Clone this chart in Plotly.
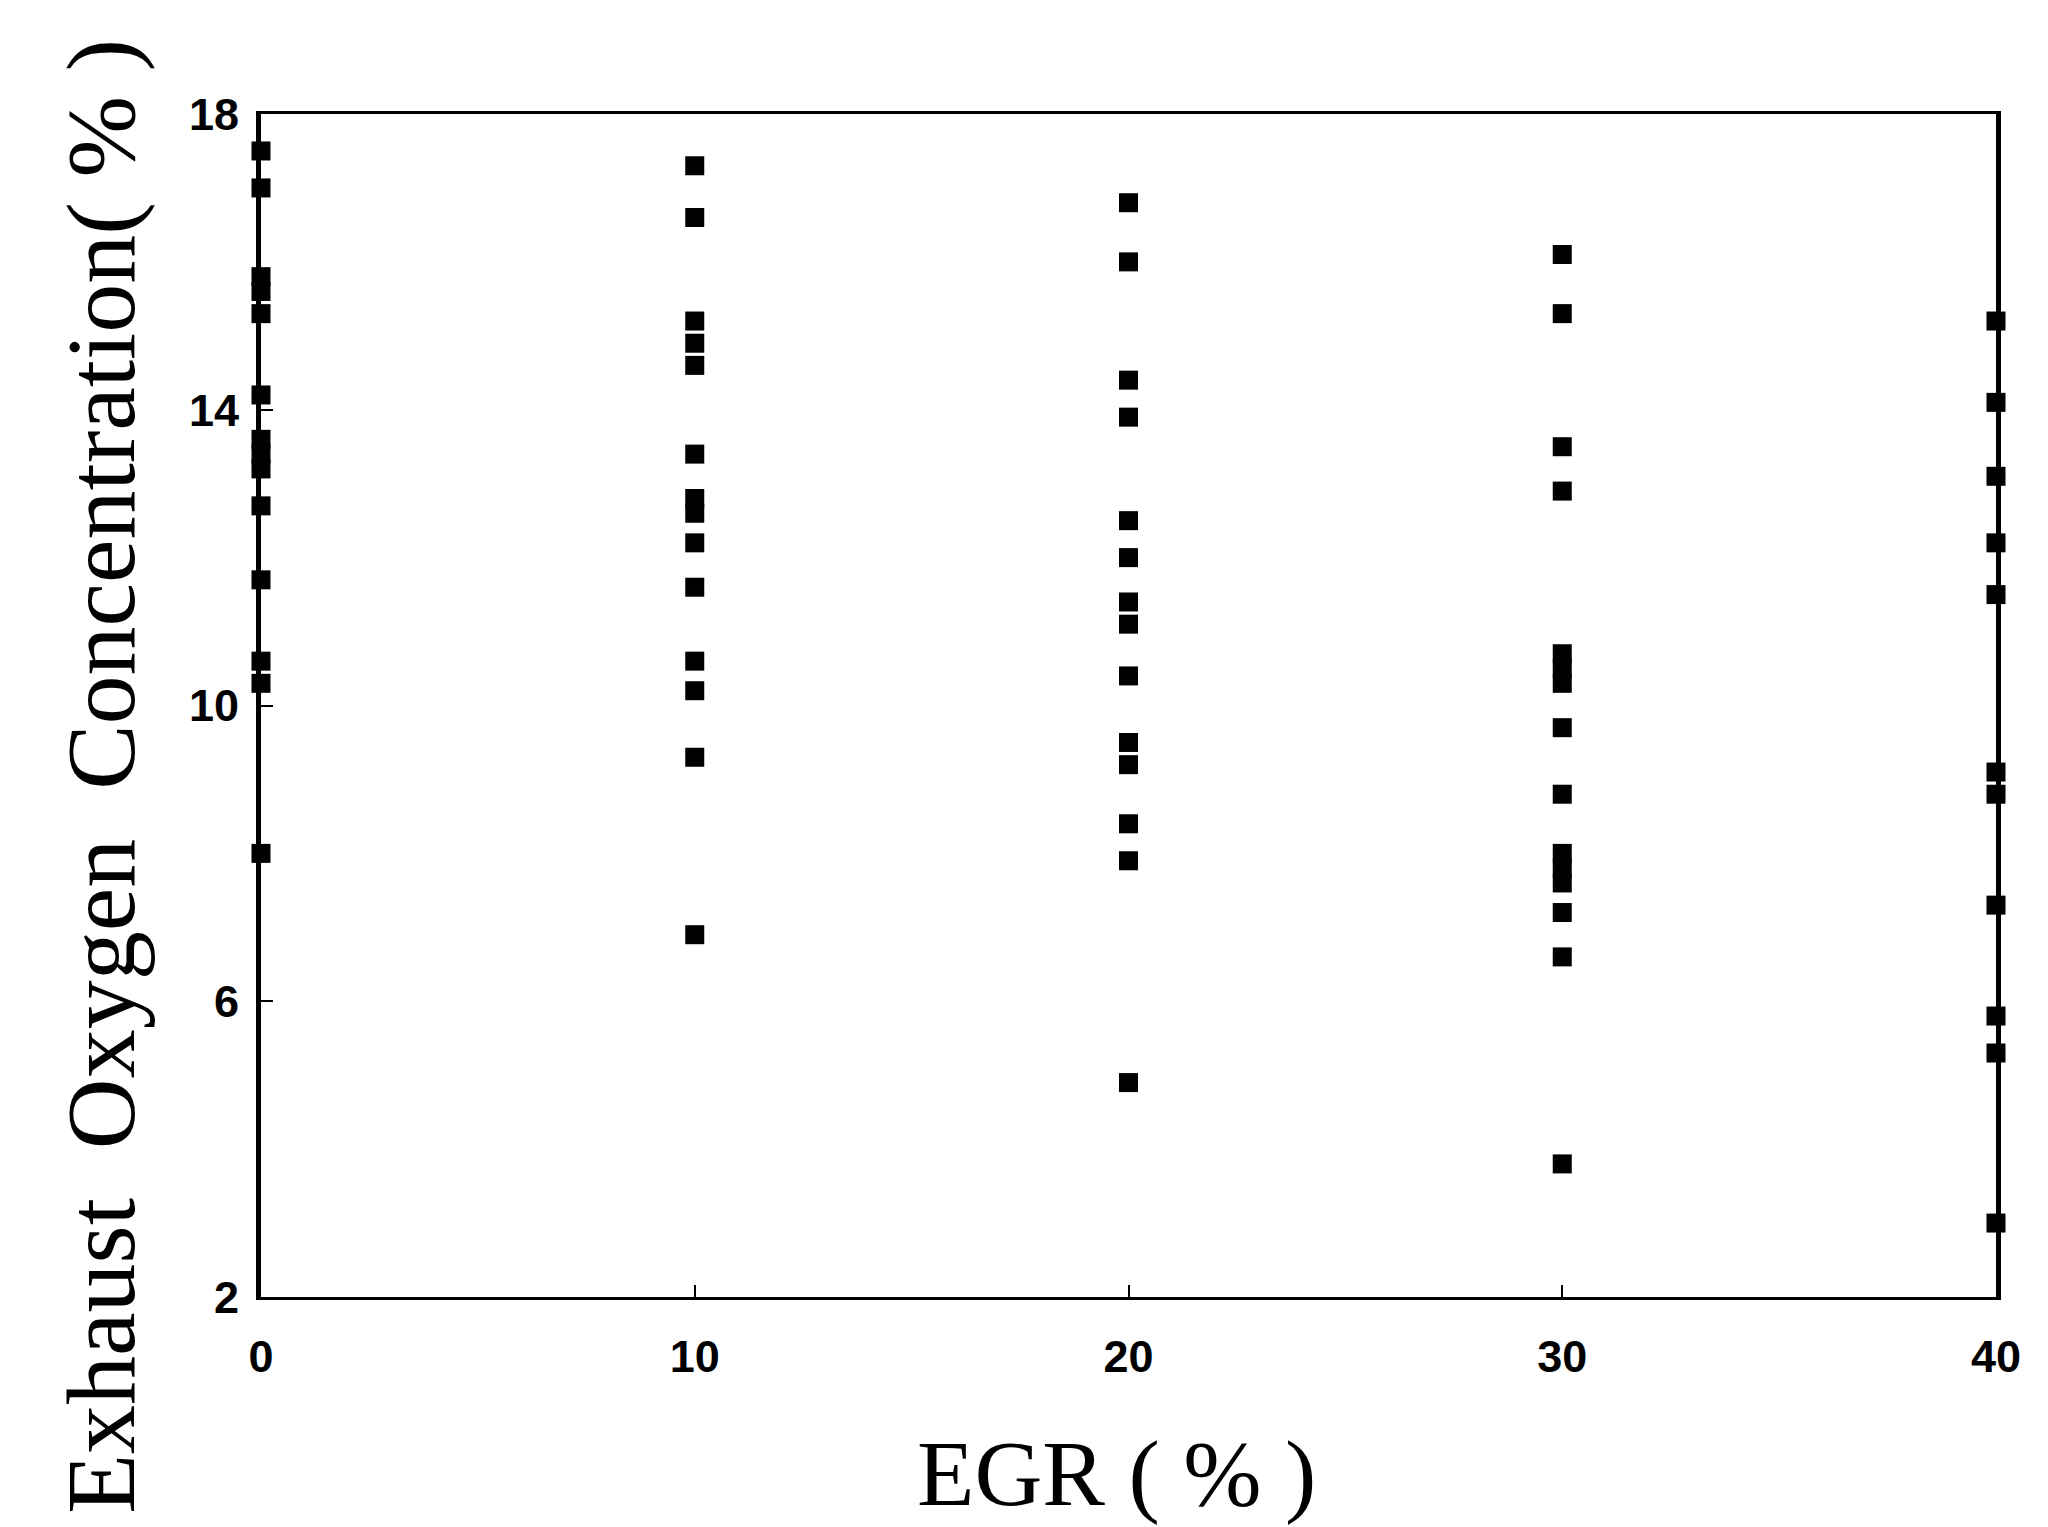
import plotly.graph_objects as go

# EGR levels (%) and measured exhaust O2 concentration (%) at each level
egr_levels = [0, 10, 20, 30, 40]
o2_egr0 = [17.5, 17.0, 15.8, 15.6, 15.3, 14.2, 13.6, 13.4, 13.2, 12.7, 11.7, 10.6, 10.3, 8.0]
o2_egr10 = [17.3, 16.6, 15.2, 14.9, 14.6, 13.4, 12.8, 12.6, 12.2, 11.6, 10.6, 10.2, 9.3, 6.9]
o2_egr20 = [16.8, 16.0, 14.4, 13.9, 12.5, 12.0, 11.4, 11.1, 10.4, 9.5, 9.2, 8.4, 7.9, 4.9]
o2_egr30 = [16.1, 15.3, 13.5, 12.9, 10.7, 10.5, 10.3, 9.7, 8.8, 8.0, 7.8, 7.6, 7.2, 6.6, 3.8]
o2_egr40 = [15.2, 14.1, 13.1, 12.2, 11.5, 9.1, 8.8, 7.3, 5.8, 5.3, 3.0]

x_ticks = [0, 10, 20, 30, 40]
y_ticks = [2, 6, 10, 14, 18]

series = [o2_egr0, o2_egr10, o2_egr20, o2_egr30, o2_egr40]
xs, ys = [], []
for lvl, vals in zip(egr_levels, series):
    xs += [lvl] * len(vals)
    ys += vals

fig = go.Figure()
fig.add_trace(go.Scatter(
    x=xs, y=ys, mode="markers",
    marker=dict(symbol="square", size=19, color="black", line=dict(width=0)),
    cliponaxis=False, showlegend=False,
))

tick_font = dict(family="Liberation Sans, Arial, sans-serif", size=45, color="black", weight="bold")
title_font_x = dict(family="Liberation Serif, Times New Roman, serif", size=94, color="black")
title_font_y = dict(family="Liberation Serif, Times New Roman, serif", size=98, color="black")

fig.update_layout(
    width=2048, height=1527,
    margin=dict(l=261, r=52, t=114, b=230),
    paper_bgcolor="white", plot_bgcolor="white",
    xaxis=dict(range=[0, 40], tickvals=x_ticks, ticktext=[str(v) for v in x_ticks],
               showgrid=False, zeroline=False, showline=True, linecolor="black",
               linewidth=3, mirror=True, ticks="inside", ticklen=12, tickwidth=2,
               tickcolor="black", tickfont=tick_font, ticklabelstandoff=18),
    yaxis=dict(range=[2, 18], tickvals=y_ticks, ticktext=[str(v) for v in y_ticks],
               showgrid=False, zeroline=False, showline=True, linecolor="black",
               linewidth=5, mirror=True, ticks="inside", ticklen=12, tickwidth=2,
               tickcolor="black", tickfont=tick_font, ticklabelstandoff=8),
    annotations=[
        dict(text="EGR\u00a0(\u00a0%\u00a0)", xref="paper", yref="paper", x=0.493, y=-0.149,
             xanchor="center", yanchor="middle", showarrow=False, font=title_font_x),
        dict(text="Exhaust\u00a0\u00a0Oxygen\u00a0\u00a0Concentration(\u00a0%\u00a0)",
             xref="paper", yref="paper", x=-0.092, y=0.44, textangle=-90,
             xanchor="center", yanchor="middle", showarrow=False, font=title_font_y),
    ],
)

fig.write_html("out.html")
